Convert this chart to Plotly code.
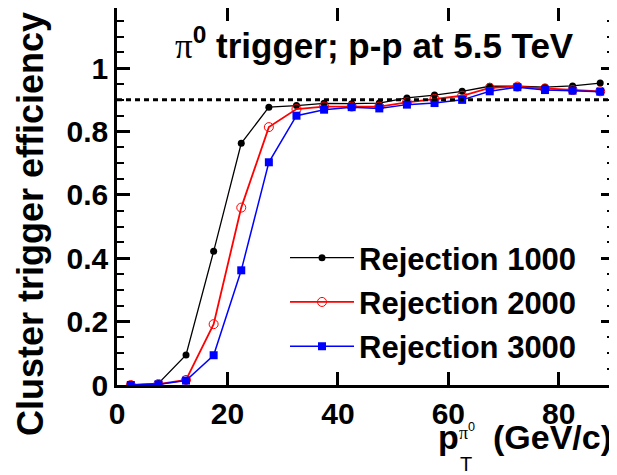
import plotly.graph_objects as go

# pT bin centres (GeV/c)
pt = [2.5, 7.5, 12.5, 17.5, 22.5, 27.5, 32.5, 37.5, 42.5,
      47.5, 52.5, 57.5, 62.5, 67.5, 72.5, 77.5, 82.5, 87.5]

eff_rej1000 = [0.0, 0.005, 0.095, 0.422, 0.763, 0.877, 0.882, 0.889, 0.888,
               0.890, 0.906, 0.915, 0.927, 0.943, 0.943, 0.940, 0.944, 0.953]
eff_rej2000 = [0.0, 0.003, 0.016, 0.192, 0.560, 0.814, 0.871, 0.879, 0.879,
               0.879, 0.892, 0.903, 0.913, 0.938, 0.942, 0.936, 0.931, 0.927]
eff_rej3000 = [0.0, 0.002, 0.014, 0.094, 0.362, 0.703, 0.850, 0.869, 0.877,
               0.873, 0.885, 0.890, 0.900, 0.927, 0.940, 0.931, 0.929, 0.926]

names = ['Rejection 1000', 'Rejection 2000', 'Rejection 3000']
threshold = 0.9

FONT = 'Liberation Sans, Arial, sans-serif'

# page has an 8px body margin, so the figure is shrunk by 8px to fit the window.
# plot area in page pixels: left 117, right 614, top 8, bottom 385
def px(x):
    return (x - 117) / 497.0

def py(y):
    return (385 - y) / 377.0


fig = go.Figure()
fig.add_trace(go.Scatter(x=pt, y=eff_rej1000, name=names[0], mode='lines+markers',
                         line=dict(color='black', width=1.3),
                         marker=dict(symbol='circle', size=7, color='black'),
                         legendgroup='a'))
fig.add_trace(go.Scatter(x=pt, y=eff_rej2000, name=names[1], mode='lines+markers',
                         line=dict(color='#ff0000', width=1.8),
                         marker=dict(symbol='circle-open', size=9, color='#ff0000',
                                     line=dict(width=1)),
                         legendgroup='b'))
fig.add_trace(go.Scatter(x=pt, y=eff_rej3000, name=names[2], mode='lines+markers',
                         line=dict(color='#0000ff', width=1.5),
                         marker=dict(symbol='square', size=8, color='#0000ff'),
                         legendgroup='c'))

fig.add_shape(type='line', xref='paper', yref='y', x0=0, x1=1, y0=threshold, y1=threshold,
              line=dict(color='black', width=3, dash='5px,4px'))

fig.update_layout(
    width=609, height=467,
    margin=dict(l=109, r=3, t=0, b=90, autoexpand=False),
    plot_bgcolor='white', paper_bgcolor='white',
    font=dict(family=FONT, color='black'),
    showlegend=True,
    legend=dict(x=px(285), y=py(231), xanchor='left', yanchor='top',
                bgcolor='rgba(0,0,0,0)', itemwidth=64, tracegroupgap=1,
                font=dict(family=FONT, size=31, weight='bold', color='black')),
)

fig.update_xaxes(range=[0, 90], dtick=20, tick0=0,
                 showline=True, linewidth=2.5, linecolor='black', mirror='allticks',
                 ticks='inside', ticklen=13, tickwidth=2.5, tickcolor='black',
                 showgrid=False, zeroline=False,
                 tickfont=dict(family=FONT, size=30, weight='bold', color='black'))
fig.update_yaxes(range=[0, 1.19], tickvals=[0, 0.2, 0.4, 0.6, 0.8, 1],
                 ticktext=['0', '0.2', '0.4', '0.6', '0.8', '1'],
                 showline=True, linewidth=2.5, linecolor='black', mirror='allticks',
                 ticks='inside', ticklen=13, tickwidth=2.5, tickcolor='black',
                 minor=dict(dtick=0.05, tick0=0, ticks='inside', ticklen=7,
                            tickwidth=2, tickcolor='black', showgrid=False),
                 ticklabelstandoff=0,
                 showgrid=False, zeroline=False,
                 tickfont=dict(family=FONT, size=30, weight='bold', color='black'))

# header text
fig.add_annotation(xref='paper', yref='paper', x=px(374), y=py(43),
                   xanchor='center', yanchor='middle', showarrow=False,
                   text="<span style='font-family:Liberation Serif;font-weight:normal'>π</span>"
                        "<sup>0</sup> trigger; p-p at 5.5 TeV",
                   font=dict(family=FONT, size=35, weight='bold', color='black'))

# y axis title
fig.add_annotation(xref='paper', yref='paper', x=px(31), y=py(224),
                   xanchor='center', yanchor='middle', showarrow=False, textangle=-90,
                   text='Cluster trigger efficiency',
                   font=dict(family=FONT, size=36, weight='bold', color='black'))

# x axis title: p_T^{pi0} (GeV/c)
fig.add_annotation(xref='paper', yref='paper', x=px(436), y=py(437),
                   xanchor='left', yanchor='middle', showarrow=False, text='p',
                   font=dict(family=FONT, size=34, weight='bold', color='black'))
fig.add_annotation(xref='paper', yref='paper', x=px(458), y=py(464),
                   xanchor='left', yanchor='middle', showarrow=False, text='T',
                   font=dict(family=FONT, size=20, weight='normal', color='black'))
fig.add_annotation(xref='paper', yref='paper', x=px(457), y=py(431),
                   xanchor='left', yanchor='middle', showarrow=False,
                   text="<span style='font-family:Liberation Serif'>π</span><sup>0</sup>",
                   font=dict(family=FONT, size=18, weight='normal', color='black'))
fig.add_annotation(xref='paper', yref='paper', x=px(614), y=py(437),
                   xanchor='right', yanchor='middle', showarrow=False, text='(GeV/c)',
                   font=dict(family=FONT, size=34, weight='bold', color='black'))

fig.write_html("out.html")
